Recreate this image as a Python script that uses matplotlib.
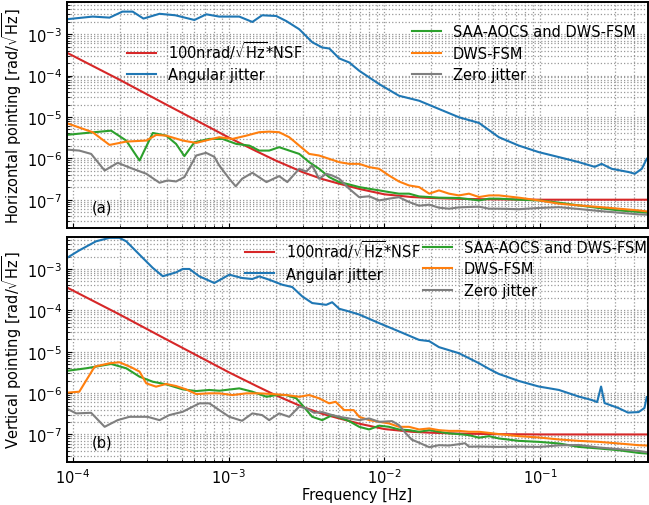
import matplotlib
matplotlib.use("Agg")
import matplotlib.pyplot as plt

# DATOS
nsf_f = [9.1e-5, 2e-4, 4e-4, 7.5e-4, 1e-3, 1.5e-3, 2e-3, 3e-3, 4e-3, 5e-3, 7e-3,
         1e-2, 1.5e-2, 2e-2, 3e-2, 5e-2, 0.1, 0.2, 0.49]
nsf_v = [3.62e-4, 7.9e-5, 1.97e-5, 5.67e-6, 3.2e-6, 1.5e-6, 8.9e-7, 4.6e-7, 3.15e-7,
         2.5e-7, 1.8e-7, 1.35e-7, 1.16e-7, 1.1e-7, 1.05e-7, 1.02e-7, 1.0e-7, 1.0e-7, 1.0e-7]

# (a) horizontal
h_jit_f = [9.1e-5, 1.34e-4, 1.72e-4, 2.08e-4, 2.42e-4, 2.84e-4, 3.6e-4, 4.55e-4, 6.03e-4,
           7.19e-4, 8.71e-4, 1.17e-3, 1.42e-3, 1.64e-3, 2.02e-3, 2.34e-3, 2.84e-3, 3.44e-3,
           3.99e-3, 4.43e-3, 5.13e-3, 5.94e-3, 6.89e-3, 9.25e-3, 1.24e-2, 1.67e-2, 2.24e-2,
           3.01e-2, 4.05e-2, 5.43e-2, 7.3e-2, 9.81e-2, 0.132, 0.177, 0.224, 0.248, 0.288,
           0.371, 0.405, 0.449, 0.483]
h_jit_v = [2.30e-3, 2.67e-3, 2.52e-3, 3.52e-3, 3.52e-3, 2.39e-3, 3.12e-3, 2.87e-3, 2.21e-3,
           3.03e-3, 2.67e-3, 2.67e-3, 1.98e-3, 2.87e-3, 2.76e-3, 2.09e-3, 1.32e-3, 6.41e-4,
           4.78e-4, 4.52e-4, 2.60e-4, 2.08e-4, 1.31e-4, 6.24e-5, 3.26e-5, 2.47e-5, 1.56e-5,
           9.84e-6, 7.17e-6, 3.24e-6, 2.03e-6, 1.41e-6, 1.07e-6, 8.09e-7, 6.23e-7, 7.36e-7,
           5.58e-7, 4.65e-7, 4.24e-7, 5.58e-7, 9.72e-7]

h_saa_f = [9.07e-5, 1.22e-4, 1.76e-4, 2.20e-4, 2.68e-4, 3.26e-4, 3.97e-4, 4.60e-4, 5.20e-4,
           6.03e-4, 7.52e-4, 9.12e-4, 1.12e-3, 1.36e-3, 1.57e-3, 1.82e-3, 2.11e-3, 2.45e-3,
           2.84e-3, 3.29e-3, 3.81e-3, 4.42e-3, 5.13e-3, 5.94e-3, 6.89e-3, 7.98e-3, 9.25e-3,
           1.07e-2, 1.24e-2, 1.44e-2, 1.67e-2, 1.94e-2, 2.24e-2, 3.01e-2, 4.05e-2, 4.70e-2,
           5.43e-2, 7.30e-2, 9.81e-2, 0.132, 0.177, 0.238, 0.319, 0.428, 0.483]
h_saa_v = [3.68e-6, 4.11e-6, 4.67e-6, 2.69e-6, 8.85e-7, 4.11e-6, 3.54e-6, 2.23e-6, 1.13e-6,
           2.45e-6, 2.95e-6, 2.95e-6, 2.23e-6, 2.03e-6, 1.54e-6, 1.54e-6, 1.86e-6, 1.54e-6,
           1.28e-6, 8.09e-7, 5.58e-7, 3.52e-7, 2.67e-7, 2.34e-7, 2.02e-7, 1.84e-7, 1.68e-7,
           1.53e-7, 1.40e-7, 1.40e-7, 1.20e-7, 1.16e-7, 1.12e-7, 1.10e-7, 9.62e-8, 1.06e-7,
           1.06e-7, 1.0e-7, 9.62e-8, 8.47e-8, 7.29e-8, 6.31e-8, 5.52e-8, 5.06e-8, 4.86e-8]

h_dws_f = [9.07e-5, 1.34e-4, 1.72e-4, 2.20e-4, 2.96e-4, 3.43e-4, 3.97e-4, 5.08e-4, 6.19e-4,
           7.52e-4, 8.71e-4, 1.06e-3, 1.30e-3, 1.57e-3, 1.82e-3, 2.11e-3, 2.45e-3, 2.84e-3,
           3.29e-3, 3.81e-3, 4.42e-3, 5.13e-3, 5.94e-3, 6.89e-3, 7.98e-3, 9.25e-3, 1.07e-2,
           1.24e-2, 1.44e-2, 1.67e-2, 1.94e-2, 2.24e-2, 2.60e-2, 3.01e-2, 3.49e-2, 4.05e-2,
           4.70e-2, 5.43e-2, 7.30e-2, 9.81e-2, 0.132, 0.177, 0.238, 0.319, 0.428, 0.483]
h_dws_v = [7.16e-6, 4.28e-6, 2.11e-6, 2.54e-6, 2.69e-6, 3.68e-6, 3.54e-6, 2.69e-6, 2.36e-6,
           2.84e-6, 3.24e-6, 2.95e-6, 3.54e-6, 4.28e-6, 4.42e-6, 4.28e-6, 3.24e-6, 2.03e-6,
           1.28e-6, 1.17e-6, 9.72e-7, 8.09e-7, 7.36e-7, 7.36e-7, 6.14e-7, 5.58e-7, 3.85e-7,
           2.76e-7, 2.21e-7, 2.02e-7, 1.40e-7, 1.68e-7, 1.40e-7, 1.27e-7, 1.40e-7, 1.16e-7,
           1.27e-7, 1.27e-7, 1.12e-7, 9.62e-8, 8.01e-8, 7.29e-8, 6.67e-8, 6.07e-8, 5.52e-8, 5.22e-8]

h_zero_f = [9.07e-5, 1.10e-4, 1.31e-4, 1.60e-4, 1.94e-4, 2.36e-4, 2.96e-4, 3.60e-4, 4.06e-4,
            4.60e-4, 5.20e-4, 6.19e-4, 7.16e-4, 8.09e-4, 8.71e-4, 1.01e-3, 1.11e-3, 1.22e-3,
            1.42e-3, 1.75e-3, 2.11e-3, 2.38e-3, 2.84e-3, 3.15e-3, 3.44e-3, 3.81e-3, 4.23e-3,
            4.62e-3, 5.13e-3, 5.94e-3, 6.89e-3, 7.98e-3, 9.25e-3, 1.07e-2, 1.24e-2, 1.44e-2,
            1.67e-2, 1.94e-2, 2.24e-2, 2.60e-2, 3.01e-2, 3.49e-2, 4.05e-2, 4.70e-2, 5.43e-2,
            7.30e-2, 9.81e-2, 0.132, 0.177, 0.238, 0.319, 0.428, 0.483]
h_zero_v = [1.63e-6, 1.54e-6, 1.28e-6, 5.08e-7, 7.80e-7, 5.81e-7, 4.24e-7, 2.57e-7, 2.92e-7,
            2.76e-7, 3.52e-7, 1.17e-6, 1.36e-6, 1.09e-6, 6.71e-7, 3.21e-7, 2.11e-7, 3.21e-7,
            4.48e-7, 2.67e-7, 3.72e-7, 2.67e-7, 5.58e-7, 4.81e-7, 6.71e-7, 3.21e-7, 4.24e-7,
            3.85e-7, 3.21e-7, 1.84e-7, 1.15e-7, 1.21e-7, 9.62e-8, 1.06e-7, 1.15e-7, 8.79e-8,
            7.16e-8, 7.59e-8, 6.41e-8, 6.07e-8, 6.52e-8, 6.67e-8, 6.78e-8, 6.07e-8, 6.07e-8,
            5.90e-8, 6.31e-8, 6.59e-8, 5.97e-8, 5.35e-8, 4.86e-8, 4.43e-8, 4.35e-8]

# (b) vertical
v_jit_f = [9.12e-5, 1.10e-4, 1.41e-4, 1.72e-4, 1.99e-4, 2.20e-4, 2.81e-4, 3.26e-4, 3.78e-4,
           4.60e-4, 5.07e-4, 5.60e-4, 6.49e-4, 7.19e-4, 8.09e-4, 1.01e-3, 1.22e-3, 1.42e-3,
           1.57e-3, 1.82e-3, 2.21e-3, 2.56e-3, 2.97e-3, 3.44e-3, 4.23e-3, 4.62e-3, 5.13e-3,
           5.94e-3, 6.89e-3, 9.25e-3, 1.24e-2, 1.67e-2, 1.94e-2, 2.24e-2, 3.01e-2, 4.05e-2,
           4.70e-2, 5.43e-2, 7.30e-2, 9.81e-2, 0.132, 0.177, 0.215, 0.232, 0.246, 0.259,
           0.318, 0.366, 0.428, 0.467, 0.483]
v_jit_v = [1.83e-3, 2.82e-3, 4.67e-3, 5.65e-3, 5.65e-3, 4.67e-3, 1.85e-3, 1.06e-3, 6.68e-4,
           8.28e-4, 1.0e-3, 1.0e-3, 6.62e-4, 5.60e-4, 4.58e-4, 7.28e-4, 6.05e-4, 5.72e-4,
           6.62e-4, 5.51e-4, 4.16e-4, 3.66e-4, 2.17e-4, 1.50e-4, 1.36e-4, 1.57e-4, 1.09e-4,
           9.38e-5, 7.93e-5, 4.91e-5, 3.10e-5, 1.93e-5, 1.80e-5, 1.29e-5, 9.20e-6, 5.26e-6,
           3.83e-6, 2.90e-6, 1.96e-6, 1.44e-6, 1.19e-6, 8.24e-7, 6.78e-7, 6.07e-7, 1.44e-6,
           5.74e-7, 4.35e-7, 3.38e-7, 3.47e-7, 4.35e-7, 8.0e-7]

v_saa_f = [9.07e-5, 1.22e-4, 1.76e-4, 2.20e-4, 2.68e-4, 3.26e-4, 3.97e-4, 5.07e-4, 6.19e-4,
           7.52e-4, 8.71e-4, 1.17e-3, 1.42e-3, 1.75e-3, 2.02e-3, 2.34e-3, 2.72e-3, 2.97e-3,
           3.44e-3, 3.99e-3, 4.62e-3, 5.36e-3, 5.94e-3, 6.89e-3, 7.98e-3, 9.25e-3, 1.07e-2,
           1.24e-2, 1.44e-2, 1.67e-2, 1.94e-2, 2.24e-2, 2.60e-2, 3.01e-2, 3.49e-2, 4.05e-2,
           4.70e-2, 5.43e-2, 7.30e-2, 9.81e-2, 0.132, 0.177, 0.238, 0.319, 0.428, 0.483]
v_saa_v = [3.43e-6, 3.98e-6, 5.06e-6, 3.98e-6, 2.49e-6, 1.88e-6, 1.63e-6, 1.23e-6, 1.12e-6,
           1.19e-6, 1.14e-6, 1.30e-6, 1.08e-6, 8.15e-7, 8.97e-7, 8.97e-7, 7.46e-7, 5.13e-7,
           2.67e-7, 2.22e-7, 2.94e-7, 2.44e-7, 2.10e-7, 1.53e-7, 1.32e-7, 1.63e-7, 1.53e-7,
           1.32e-7, 1.27e-7, 1.16e-7, 1.27e-7, 1.16e-7, 1.06e-7, 1.02e-7, 9.62e-8, 8.36e-8,
           9.1e-8, 8.0e-8, 7.0e-8, 6.62e-8, 6.05e-8, 5.0e-8, 4.58e-8, 4.16e-8, 3.58e-8, 3.46e-8]

v_dws_f = [9.07e-5, 1.10e-4, 1.38e-4, 1.72e-4, 1.99e-4, 2.37e-4, 2.68e-4, 2.96e-4, 3.42e-4,
           3.97e-4, 4.60e-4, 5.33e-4, 6.19e-4, 7.52e-4, 8.71e-4, 1.06e-3, 1.30e-3, 1.57e-3,
           1.90e-3, 2.34e-3, 2.84e-3, 3.29e-3, 3.81e-3, 4.42e-3, 4.86e-3, 5.52e-3, 6.35e-3,
           6.89e-3, 7.98e-3, 9.25e-3, 1.07e-2, 1.24e-2, 1.44e-2, 1.67e-2, 1.94e-2, 2.24e-2,
           2.60e-2, 3.01e-2, 3.49e-2, 4.05e-2, 4.70e-2, 5.43e-2, 7.30e-2, 9.81e-2, 0.132,
           0.177, 0.238, 0.319, 0.428, 0.483]
v_dws_v = [1.02e-6, 1.08e-6, 4.36e-6, 5.26e-6, 5.56e-6, 4.21e-6, 3.30e-6, 1.72e-6, 1.43e-6,
           1.66e-6, 1.48e-6, 1.23e-6, 9.48e-7, 9.86e-7, 9.86e-7, 8.97e-7, 9.86e-7, 9.86e-7,
           9.48e-7, 8.97e-7, 8.15e-7, 8.97e-7, 7.46e-7, 5.65e-7, 6.17e-7, 3.88e-7, 3.88e-7,
           2.67e-7, 2.22e-7, 2.02e-7, 1.85e-7, 1.53e-7, 1.53e-7, 1.32e-7, 1.40e-7, 1.27e-7,
           1.22e-7, 1.22e-7, 1.16e-7, 1.16e-7, 1.09e-7, 1.02e-7, 9.1e-8, 8.45e-8, 7.57e-8,
           7.0e-8, 6.62e-8, 6.05e-8, 5.51e-8, 5.41e-8]

v_zero_f = [9.07e-5, 1.05e-4, 1.31e-4, 1.60e-4, 1.94e-4, 2.31e-4, 3.02e-4, 3.60e-4, 4.16e-4,
            5.07e-4, 6.49e-4, 7.52e-4, 8.71e-4, 1.01e-3, 1.22e-3, 1.42e-3, 1.64e-3, 1.82e-3,
            2.11e-3, 2.45e-3, 2.84e-3, 3.15e-3, 3.54e-3, 3.99e-3, 4.62e-3, 5.13e-3, 5.94e-3,
            6.89e-3, 7.98e-3, 9.25e-3, 1.12e-2, 1.24e-2, 1.37e-2, 1.50e-2, 1.67e-2, 1.94e-2,
            2.24e-2, 2.60e-2, 3.01e-2, 3.29e-2, 3.49e-2, 4.05e-2, 4.70e-2, 5.43e-2, 7.30e-2,
            9.81e-2, 0.132, 0.177, 0.238, 0.319, 0.428, 0.483]
v_zero_v = [4.27e-7, 3.23e-7, 3.34e-7, 1.53e-7, 2.22e-7, 2.67e-7, 2.67e-7, 2.22e-7, 2.94e-7,
            3.53e-7, 5.65e-7, 5.65e-7, 3.88e-7, 2.67e-7, 2.14e-7, 3.23e-7, 2.94e-7, 2.22e-7,
            3.23e-7, 2.67e-7, 4.72e-7, 4.27e-7, 3.34e-7, 3.47e-7, 2.94e-7, 2.67e-7, 2.44e-7,
            2.22e-7, 2.44e-7, 2.02e-7, 2.1e-7, 1.68e-7, 1.07e-7, 7.48e-8, 6.32e-8, 4.92e-8,
            5.51e-8, 5.4e-8, 5.82e-8, 6.15e-8, 5.06e-8, 5.12e-8, 5.06e-8, 5.0e-8, 5.1e-8,
            5.0e-8, 5.44e-8, 5.56e-8, 4.84e-8, 4.41e-8, 4.0e-8, 3.72e-8]

nsf_label = r'100nrad/$\sqrt{\rm Hz}$*NSF'

# GRAFICO
plt.rcParams['font.size'] = 10.5
fig, (ax1, ax2) = plt.subplots(2, 1, sharex=True, figsize=(6.49, 5.06), dpi=100)
fig.subplots_adjust(left=0.103, right=0.998, top=0.994, bottom=0.084, hspace=0.04)

paneles = [
    (ax1, h_jit_f, h_jit_v, h_saa_f, h_saa_v, h_dws_f, h_dws_v, h_zero_f, h_zero_v,
     r'Horizontal pointing [rad/$\sqrt{\rm Hz}$]', '(a)', (0.094, 0.862), (0.584, 0.928)),
    (ax2, v_jit_f, v_jit_v, v_saa_f, v_saa_v, v_dws_f, v_dws_v, v_zero_f, v_zero_v,
     r'Vertical pointing [rad/$\sqrt{\rm Hz}$]', '(b)', (0.297, 1.02), (0.603, 1.012)),
]

for ax, jf, jv, sf, sv, df, dv, zf, zv, ylab, tag, pos1, pos2 in paneles:
    l_nsf, = ax.loglog(nsf_f, nsf_v, color='tab:red', lw=1.5, label=nsf_label)
    l_jit, = ax.loglog(jf, jv, color='tab:blue', lw=1.5, label='Angular jitter')
    l_saa, = ax.loglog(sf, sv, color='tab:green', lw=1.5, label='SAA-AOCS and DWS-FSM')
    l_dws, = ax.loglog(df, dv, color='tab:orange', lw=1.5, label='DWS-FSM')
    l_zero, = ax.loglog(zf, zv, color='tab:gray', lw=1.5, label='Zero jitter')

    leg1 = ax.legend(handles=[l_nsf, l_jit], loc='upper left', bbox_to_anchor=pos1,
                     frameon=False, borderaxespad=0, labelspacing=0.45)
    ax.add_artist(leg1)
    ax.legend(handles=[l_saa, l_dws, l_zero], loc='upper left', bbox_to_anchor=pos2,
              frameon=False, borderaxespad=0, labelspacing=0.45)

    ax.set_xlim(9.15e-5, 0.49)
    ax.set_ylim(2.1e-8, 6e-3)
    ax.set_ylabel(ylab, labelpad=2)
    ax.text(0.043, 0.093, tag, transform=ax.transAxes, va='center', ha='left')
    ax.grid(True, which='both', ls=':', color='0.6', lw=0.9)
    ax.tick_params(which='both', direction='in')
    for s in ax.spines.values():
        s.set_linewidth(1.4)

ax2.set_xlabel('Frequency [Hz]', labelpad=1)

plt.savefig('out.png', dpi=100)
